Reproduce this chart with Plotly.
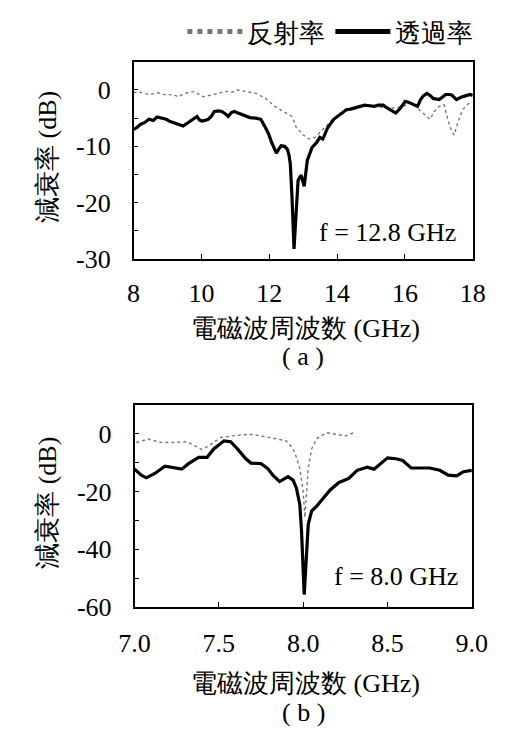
import plotly.graph_objects as go

# ---------------- Panel (a): 8-18 GHz ----------------
a_trans_f = [8.0, 8.09, 8.2, 8.32, 8.45, 8.58, 8.69, 8.82, 8.96, 9.08, 9.19, 9.32, 9.46, 9.58, 9.69,
             9.78, 9.87, 9.94, 10.01, 10.1, 10.2, 10.3, 10.38, 10.5, 10.6, 10.7,
             10.79, 10.88, 10.97, 11.08, 11.2, 11.32, 11.43, 11.6, 11.75, 11.89, 11.98, 12.07, 12.21,
             12.28, 12.35, 12.45, 12.53, 12.58, 12.62,
             12.67, 12.70, 12.73, 12.76, 12.79, 12.85, 12.94, 13.03, 13.12, 13.26, 13.4,
             13.49, 13.58, 13.72, 13.9, 14.08, 14.27, 14.4, 14.54, 14.68, 14.81, 14.95, 15.09, 15.22,
             15.36, 15.45, 15.55, 15.73, 15.87, 16.01, 16.12, 16.24, 16.37, 16.46, 16.55, 16.65,
             16.75, 16.83, 16.92, 17.01, 17.1, 17.2, 17.3, 17.38, 17.52, 17.65, 17.8, 17.93, 18.0]
a_trans_db = [-7.0, -6.7, -6.1, -5.8, -5.2, -5.4, -4.8, -5.0, -5.2, -5.6, -5.8, -6.0, -6.4, -5.9, -5.5,
              -5.1, -4.7, -5.3, -5.5, -5.4, -5.2, -4.6, -3.8, -3.7, -3.8, -4.2,
              -4.7, -4.0, -3.8, -4.1, -4.4, -4.6, -4.9, -5.0, -5.2, -6.7, -7.8, -9.3, -11.2,
              -10.5, -9.9, -10.0, -10.5, -11.5, -13.1,
              -19.0, -25.0, -28.2, -25.0, -21.8, -16.0, -15.1, -17.1, -12.5, -10.2, -9.3,
              -8.4, -8.7, -6.7, -5.2, -4.4, -3.5, -3.4, -3.2, -3.0, -2.7, -2.8, -2.9, -2.7,
              -2.7, -3.1, -3.5, -4.1, -3.2, -2.0, -2.2, -2.5, -2.9, -1.7, -1.0, -0.6,
              -1.0, -1.5, -1.6, -1.7, -1.3, -0.8, -0.8, -0.9, -1.7, -1.3, -1.0, -0.8, -1.0]

a_refl_f = [8.0, 8.14, 8.3, 8.5, 8.7, 8.96, 9.15, 9.32, 9.51, 9.78, 10.06, 10.33, 10.5, 10.7, 10.9,
            11.06, 11.2, 11.34, 11.61,
            11.89, 12.16, 12.43, 12.67, 12.8, 12.99, 13.17, 13.35, 13.63, 13.9, 14.1, 14.5,
            15.0, 15.5, 15.9, 16.2, 16.42, 16.6, 16.74, 16.87, 17.01, 17.15, 17.29, 17.38,
            17.45, 17.56, 17.7, 17.84, 17.95]
a_refl_db = [-0.5, -0.3, -0.6, -0.8, -0.5, -0.9, -0.8, -1.2, -0.6, -0.3, -1.2, -0.9, -0.6, -0.2, -0.4,
             0.0, -0.1, -0.3, -0.6,
             -1.5, -2.9, -3.8, -4.7, -6.7, -7.9, -8.7, -8.4, -6.7, -5.0, -4.2, -3.0,
             -2.7, -3.3, -3.0, -2.3, -3.5, -4.4, -5.2, -3.8, -2.9, -2.6, -5.8, -7.3,
             -8.0, -5.8, -3.5, -2.6, -2.0]

# ---------------- Panel (b): 7-9 GHz ----------------
b_trans_f = [7.0, 7.04, 7.07, 7.12, 7.18, 7.22, 7.28, 7.32, 7.38, 7.43, 7.47, 7.53, 7.57,
             7.61, 7.66, 7.69, 7.75, 7.79, 7.82, 7.86, 7.91, 7.94, 7.96, 7.98, 7.99, 8.006,
             8.02, 8.03, 8.05, 8.08, 8.12, 8.16, 8.21, 8.27, 8.32, 8.38, 8.42, 8.46, 8.5,
             8.55, 8.59, 8.64, 8.69, 8.75, 8.81, 8.86, 8.91, 8.95, 9.0]
b_trans_db = [-12.3, -14.4, -15.3, -13.8, -11.3, -11.6, -12.3, -10.4, -8.2, -8.2, -5.3, -2.5, -2.8,
              -5.3, -8.7, -10.2, -10.4, -12.1, -14.4, -16.6, -14.9, -16.1, -18.9, -24.6, -33.6, -55.7,
              -40.4, -31.4, -26.8, -25.1, -22.3, -19.5, -17.0, -15.5, -12.7, -11.6, -12.3, -10.4, -8.4,
              -8.7, -9.3, -11.9, -11.9, -11.9, -12.7, -14.4, -14.6, -13.2, -12.7]

b_refl_f = [7.01, 7.08, 7.16, 7.23, 7.31, 7.35, 7.4, 7.44, 7.51, 7.58, 7.68, 7.75, 7.82,
            7.9, 7.94, 7.96, 7.98, 8.0, 8.01, 8.02, 8.03, 8.05, 8.08, 8.14, 8.19, 8.25, 8.3]
b_refl_db = [-3.1, -1.9, -3.1, -3.1, -2.8, -4.0, -5.5, -4.2, -1.4, -0.8, -0.2, -0.8, -1.7,
             -2.5, -5.3, -8.2, -12.1, -20.0, -29.0, -21.0, -12.1, -5.3, -1.7, 0.3, -0.2, -0.8, 0.3]

# ---------------- Axis ticks / labels ----------------
a_xticks = [8, 10, 12, 14, 16, 18]
a_xlabels = ["8", "10", "12", "14", "16", "18"]
a_yticks = [-30, -25, -20, -15, -10, -5, 0]
a_ylabels = ["-30", "", "-20", "", "-10", "", "0"]
b_xticks = [7.0, 7.5, 8.0, 8.5, 9.0]
b_xlabels = ["7.0", "7.5", "8.0", "8.5", "9.0"]
b_yticks = [-60, -50, -40, -30, -20, -10, 0]
b_ylabels = ["-60", "", "-40", "", "-20", "", "0"]

name_refl = "反射率"
name_trans = "透過率"
ytitle = "減衰率 (dB)"
xtitle = "電磁波周波数 (GHz)"

FONT = "Liberation Serif, serif"
FS = 26
W, H = 507, 740

fig = go.Figure()
refl_style = dict(color="#777777", width=1.4, dash="dot")
trans_style = dict(color="black", width=3.2)

fig.add_trace(go.Scatter(x=a_refl_f, y=a_refl_db, mode="lines", line=refl_style,
                         name=name_refl, xaxis="x", yaxis="y", legendrank=1))
fig.add_trace(go.Scatter(x=a_trans_f, y=a_trans_db, mode="lines", line=trans_style,
                         name=name_trans, xaxis="x", yaxis="y", legendrank=2))
fig.add_trace(go.Scatter(x=b_refl_f, y=b_refl_db, mode="lines", line=refl_style,
                         name=name_refl, xaxis="x2", yaxis="y2", showlegend=False))
fig.add_trace(go.Scatter(x=b_trans_f, y=b_trans_db, mode="lines", line=trans_style,
                         name=name_trans, xaxis="x2", yaxis="y2", showlegend=False))

common = dict(showline=True, linecolor="black", linewidth=1.5, mirror=True,
              ticks="inside", ticklen=5, tickcolor="black", tickwidth=1.2,
              showgrid=False, zeroline=False, tickmode="array",
              tickfont=dict(family=FONT, size=FS, color="black"))

fig.update_layout(
    width=W, height=H,
    margin=dict(l=0, r=0, t=0, b=0),
    paper_bgcolor="white", plot_bgcolor="white",
    font=dict(family=FONT, size=FS, color="black"),
    showlegend=True,
    legend=dict(orientation="h", x=485 / W, xanchor="right", y=1 - 22 / H, yanchor="middle",
                font=dict(family=FONT, size=FS, color="black"), itemwidth=55,
                bgcolor="rgba(0,0,0,0)", tracegroupgap=0, itemsizing="constant"),
    xaxis=dict(domain=[117 / W, 479 / W], range=[8, 18], anchor="y",
               tickvals=a_xticks, ticktext=a_xlabels, ticklabelstandoff=10, **common),
    yaxis=dict(domain=[1 - 255 / H, 1 - 53 / H], range=[-30, 5], anchor="x",
               tickvals=a_yticks, ticktext=a_ylabels, ticklabelstandoff=16, **common),
    xaxis2=dict(domain=[118 / W, 478 / W], range=[7, 9], anchor="y2",
                tickvals=b_xticks, ticktext=b_xlabels, ticklabelstandoff=12, **common),
    yaxis2=dict(domain=[1 - 611 / H, 1 - 404 / H], range=[-60, 10], anchor="x2",
                tickvals=b_yticks, ticktext=b_ylabels, ticklabelstandoff=16, **common),
)

ann_font = dict(family=FONT, size=FS, color="black")
anns = [
    dict(text=ytitle, x=25 / W, y=1 - 150 / H, textangle=-90),
    dict(text=ytitle, x=25 / W, y=1 - 504 / H, textangle=-90),
    dict(text=xtitle, x=300 / W, y=1 - 326 / H),
    dict(text=xtitle, x=300 / W, y=1 - 689 / H),
    dict(text="( a )", x=298 / W, y=1 - 355 / H),
    dict(text="( b )", x=298 / W, y=1 - 719 / H),
    dict(text="f = 12.8 GHz", x=463 / W, y=1 - 228 / H, xanchor="right"),
    dict(text="f = 8.0 GHz", x=465 / W, y=1 - 580 / H, xanchor="right"),
]
for a in anns:
    a.setdefault("xanchor", "center")
    fig.add_annotation(xref="paper", yref="paper", yanchor="middle", showarrow=False,
                       font=ann_font, **a)

fig.write_html("out.html")
